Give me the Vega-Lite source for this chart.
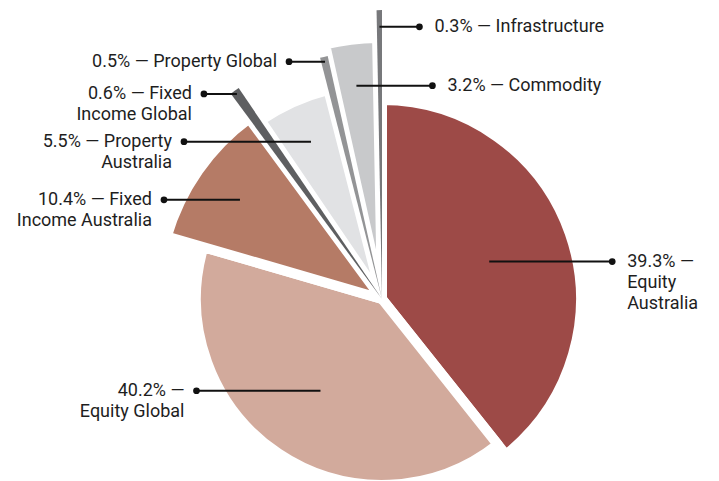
{
  "$schema": "https://vega.github.io/schema/vega-lite/v6.json",
  "width": 674,
  "height": 364,
  "padding": {"left": 45, "top": 117, "right": 0, "bottom": 0},
  "autosize": {"type": "none"},
  "background": "white",
  "view": {"stroke": null},
  "config": {"font": "Roboto"},
  "data": {
    "values": [
      {"ord": 1, "name": "Equity Australia", "value": 39.3, "magnitude": 66.3, "leaderFrac": 0.571, "leaderLen": 123, "label": ["39.3% —", "Equity", "Australia"]},
      {"ord": 2, "name": "Equity Global", "value": 40.2, "magnitude": 62.0, "leaderFrac": 0.594, "leaderLen": -124, "label": ["40.2% —", "Equity Global"]},
      {"ord": 3, "name": "Fixed Income Australia", "value": 10.4, "magnitude": 74.7, "leaderFrac": 0.773, "leaderLen": -76, "label": ["10.4% — Fixed", "Income Australia"]},
      {"ord": 4, "name": "Fixed Income Global", "value": 0.6, "magnitude": 85.0, "leaderFrac": 0.985, "leaderLen": -33, "label": ["0.6% — Fixed", "Income Global"]},
      {"ord": 5, "name": "Property Australia", "value": 5.5, "magnitude": 72.0, "leaderFrac": 0.799, "leaderLen": -127, "label": ["5.5% — Property", "Australia"]},
      {"ord": 6, "name": "Property Global", "value": 0.5, "magnitude": 83.0, "leaderFrac": 0.98, "leaderLen": -36, "label": ["0.5% — Property Global"]},
      {"ord": 7, "name": "Commodity", "value": 3.2, "magnitude": 87.0, "leaderFrac": 0.823, "leaderLen": 76, "label": ["3.2% — Commodity"]},
      {"ord": 8, "name": "Infrastructure", "value": 0.3, "magnitude": 96.3, "leaderFrac": 0.942, "leaderLen": 40, "label": ["0.3% — Infrastructure"]}
    ]
  },
  "transform": [
    {"window": [{"op": "sum", "field": "value", "as": "ce"}], "sort": [{"field": "ord"}], "frame": [null, 0]},
    {"calculate": "datum.ce - datum.value", "as": "cs"},
    {"calculate": "(datum.cs + datum.value / 2) / 100 * 2 * PI", "as": "mid"},
    {"calculate": "datum.leaderFrac * datum.magnitude * 3", "as": "lr"},
    {"calculate": "datum.lr * sin(datum.mid)", "as": "lx0"},
    {"calculate": "datum.lr * cos(datum.mid)", "as": "ly"},
    {"calculate": "datum.lx0 + datum.leaderLen", "as": "lx1"}
  ],
  "layer": [
    {
      "transform": [{"filter": "datum.value >= 3"}],
      "mark": {"type": "arc", "stroke": "white", "strokeWidth": 10, "strokeJoin": "round"},
      "encoding": {
        "theta": {"field": "cs", "type": "quantitative", "stack": null, "scale": {"domain": [0, 100]}},
        "theta2": {"field": "ce"},
        "radius": {"field": "magnitude", "type": "quantitative", "scale": {"type": "linear", "domain": [0, 100], "range": [0, 300], "zero": true}},
        "color": {
          "field": "name", "type": "nominal", "legend": null,
          "scale": {
            "domain": ["Equity Australia", "Equity Global", "Fixed Income Australia", "Fixed Income Global", "Property Australia", "Property Global", "Commodity", "Infrastructure"],
            "range": ["#9D4A47", "#D2AA9C", "#B57B66", "#5E5F61", "#E1E2E4", "#939496", "#C8C9CB", "#77787B"]
          }
        }
      }
    },
    {
      "transform": [{"filter": "datum.value < 3"}],
      "mark": {"type": "arc"},
      "encoding": {
        "theta": {"field": "cs", "type": "quantitative", "stack": null, "scale": {"domain": [0, 100]}},
        "theta2": {"field": "ce"},
        "radius": {"field": "magnitude", "type": "quantitative", "scale": {"type": "linear", "domain": [0, 100], "range": [0, 300], "zero": true}},
        "color": {"field": "name", "type": "nominal", "legend": null}
      }
    },
    {
      "mark": {"type": "rule", "strokeWidth": 2, "color": "#111111"},
      "encoding": {
        "x": {"field": "lx0", "type": "quantitative", "axis": null, "scale": {"domain": [-337, 337]}},
        "x2": {"field": "lx1"},
        "y": {"field": "ly", "type": "quantitative", "axis": null, "scale": {"domain": [-182, 182]}}
      }
    },
    {
      "mark": {"type": "point", "filled": true, "size": 45, "opacity": 1, "color": "#111111"},
      "encoding": {
        "x": {"field": "lx1", "type": "quantitative", "axis": null, "scale": {"domain": [-337, 337]}},
        "y": {"field": "ly", "type": "quantitative", "axis": null, "scale": {"domain": [-182, 182]}}
      }
    },
    {
      "transform": [{"filter": "datum.leaderLen < 0"}],
      "mark": {"type": "text", "align": "right", "baseline": "middle", "dx": -12, "font": "Roboto", "fontSize": 18, "lineHeight": 21.2, "color": "#1E1E1E"},
      "encoding": {
        "x": {"field": "lx1", "type": "quantitative", "axis": null, "scale": {"domain": [-337, 337]}},
        "y": {"field": "ly", "type": "quantitative", "axis": null, "scale": {"domain": [-182, 182]}},
        "text": {"field": "label"}
      }
    },
    {
      "transform": [{"filter": "datum.leaderLen > 0"}],
      "mark": {"type": "text", "align": "left", "baseline": "middle", "dx": 15, "font": "Roboto", "fontSize": 18, "lineHeight": 21.2, "color": "#1E1E1E"},
      "encoding": {
        "x": {"field": "lx1", "type": "quantitative", "axis": null, "scale": {"domain": [-337, 337]}},
        "y": {"field": "ly", "type": "quantitative", "axis": null, "scale": {"domain": [-182, 182]}},
        "text": {"field": "label"}
      }
    }
  ]
}
